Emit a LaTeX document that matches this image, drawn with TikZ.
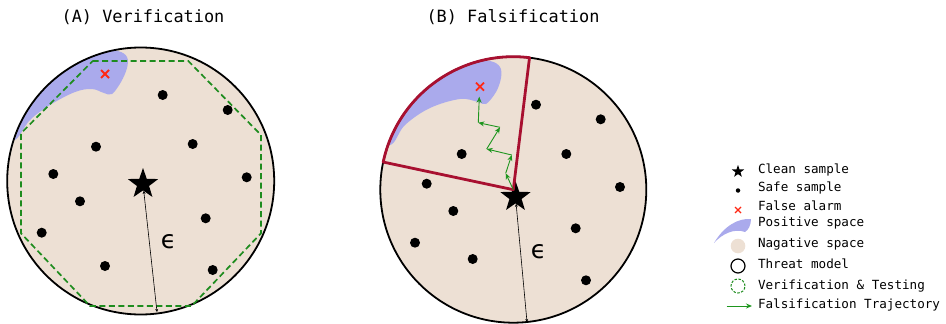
\documentclass[tikz,border=0pt]{standalone}
\usepackage{fontspec}
\setmonofont{DejaVu Sans Mono}
\newfontfamily\epsfont{DejaVu Sans}
\usetikzlibrary{shapes.geometric,shapes.misc,arrows.meta,calc}
\definecolor{beige}{RGB}{237,224,212}
\definecolor{posblue}{RGB}{170,170,236}
\definecolor{xred}{RGB}{255,40,20}
\definecolor{secred}{RGB}{168,16,48}
\definecolor{vgreen}{RGB}{30,140,30}
\definecolor{tgreen}{RGB}{30,150,30}
\begin{document}
\begin{tikzpicture}[x=1pt,y=-1pt,
 every node/.style={inner sep=0pt, outer sep=0pt},
 threat/.style={draw=black, line width=1.8pt, fill=beige},
 safe/.style={circle, fill=black, minimum size=10pt},
 clean/.style={star, star points=5, star point ratio=2.5, fill=black, minimum size=32pt},
 falarm/.style={cross out, draw=xred, line width=1.8pt, minimum size=8pt},
 epsline/.style={line width=0.6pt, {Stealth[length=3pt,width=3pt]}-{Stealth[length=3pt,width=3pt]}},
 epslabel/.style={font=\epsfont\fontsize{25}{28}\selectfont},
 title/.style={font=\ttfamily\fontsize{16.9}{20}\selectfont},
 legtext/.style={font=\ttfamily\fontsize{12.6}{15}\selectfont, anchor=west},
 traj/.style={draw=tgreen, line width=0.9pt, -{Stealth[length=6pt,width=5pt]}},
 verif/.style={draw=vgreen, line width=1.7pt, dash pattern=on 6pt off 3.5pt},
 sector/.style={draw=secred, line width=2.8pt, line join=round}
]
\useasboundingbox (0,0) rectangle (946,324);

% ---------------- Titles
\node[title] (tA) at (143,17) {(A) Verification};
\node[title] (tB) at (513,17) {(B) Falsification};

% ---------------- Panel A
\coordinate (cA) at (140.7,181);
\fill[beige] (cA) circle[radius=133.5pt];
\begin{scope}
  \clip (cA) circle[radius=133.5pt];
  \fill[posblue] plot[smooth cycle, tension=0.6] coordinates {
    (100,50) (118,51) (127,57) (127,68) (121,82) (112,94) (104,93)
    (92,89) (75,92) (50,105) (30,120) (14,140) (0,120) (30,70) (70,45)};
\end{scope}
\draw[threat, fill=none] (cA) circle[radius=133.5pt];

\draw[verif] (92.7,61) -- (188.3,61) -- (261,135) -- (261,233.3) -- (191.7,306)
  -- (90,306) -- (21,233.3) -- (21,133.3) -- cycle;

\foreach \n/\p in {1/{(162.7,95)},2/{(227.7,110)},3/{(96,146.7)},4/{(192.7,144)},
  5/{(53.3,174)},6/{(246.7,177.3)},7/{(80,201.3)},8/{(205.7,218.3)},
  9/{(41.7,232.7)},10/{(105,266)},11/{(212.7,270)}}
  \node[safe] (dA\n) at \p {};

\node[falarm] (xA) at (105,74) {};
\node[clean] (sA) at (143,184) {};
\coordinate (eA) at (157,312);
\draw[epsline] (sA) -- (eA);
\node[epslabel] (epsA) at (168.5,242) {ϵ};

% ---------------- Panel B
\coordinate (cB) at (513.3,189.7);
\fill[beige] (cB) circle[radius=133pt];
\begin{scope}
  \clip (cB) circle[radius=133pt];
  \fill[posblue] plot[smooth cycle, tension=0.6] coordinates {
    (470,61) (490,61) (500,67) (501,78) (496,92) (486,104) (478,102)
    (460,99) (430,108) (405,125) (390,145) (370,130) (400,80) (440,55)};
\end{scope}
\draw[threat, fill=none] (cB) circle[radius=133pt];

\foreach \n/\p in {1/{(536,104.7)},2/{(600.7,119.3)},3/{(461.7,154)},4/{(566.3,154)},
  5/{(620,187)},6/{(426.7,183.7)},7/{(453.3,211)},8/{(575.7,228.3)},
  9/{(415,242.7)},10/{(472.7,259)},11/{(586,280.3)}}
  \node[safe] (dB\n) at \p {};

\node[falarm] (xB) at (480,86.7) {};
\node[clean] (sB) at (515.5,197) {};
\coordinate (eB) at (527,322);
\draw[epsline] (sB) -- (eB);
\node[epslabel] (epsB) at (538.5,252) {ϵ};

\draw[sector] (cB) -- ($(cB)+(168:133pt)$) arc[start angle=168, end angle=83, radius=133pt] -- cycle;

\coordinate (t1) at (505.7,173.3);
\coordinate (t2) at (511.7,155);
\coordinate (t3) at (486.7,149);
\coordinate (t4) at (500,127.3);
\coordinate (t5) at (478.3,122.7);
\coordinate (t6) at (479.3,96.7);
\draw[traj] (cB) -- (t1);
\draw[traj] (t1) -- (t2);
\draw[traj] (t2) -- (t3);
\draw[traj] (t3) -- (t4);
\draw[traj] (t4) -- (t5);
\draw[traj] (t5) -- (t6);

% ---------------- Legend
\node[clean, minimum size=13pt] (lg1) at (738,171.5) {};
\node[safe, minimum size=4.5pt] (lg2) at (738,190.5) {};
\node[falarm, minimum size=6pt, line width=1.3pt] (lg3) at (738,210) {};
\fill[posblue] (714,243) .. controls (724,226) and (738,218) .. (751,219)
  .. controls (751,225) and (748.5,230) .. (745,232)
  .. controls (734,228) and (722,234) .. (714,243);
\node[circle, fill=beige, minimum size=14.6pt] (lg5) at (738,246) {};
\node[circle, draw=black, line width=1.2pt, minimum size=14pt] (lg6) at (738,266) {};
\node[circle, draw=vgreen, line width=1pt, dash pattern=on 2.5pt off 1.5pt, minimum size=14pt] (lg7) at (738,286) {};
\coordinate (la1) at (726.5,306);
\coordinate (la2) at (752,306);
\draw[traj] (la1) -- (la2);

\node[legtext] (l1) at (758,170) {Clean sample};
\node[legtext] (l2) at (758,188) {Safe sample};
\node[legtext] (l3) at (758,205.5) {False alarm};
\node[legtext] (l4) at (758,223.5) {Positive space};
\node[legtext] (l5) at (758,244) {Nagative space};
\node[legtext] (l6) at (758,264) {Threat model};
\node[legtext] (l7) at (758,285.7) {Verification \& Testing};
\node[legtext] (l8) at (758,305) {Falsification Trajectory};
\end{tikzpicture}
\end{document}
